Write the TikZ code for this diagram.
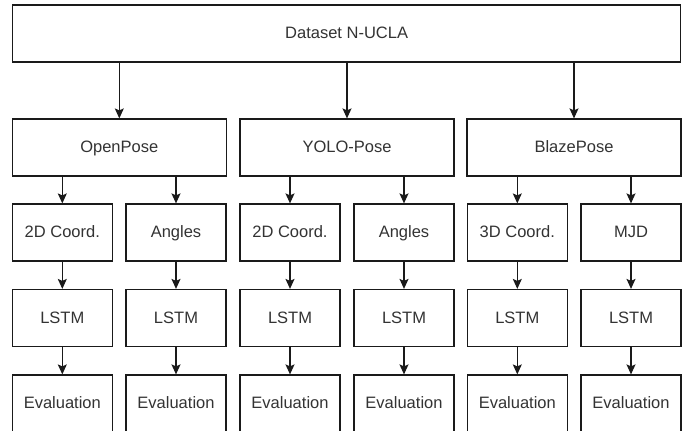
\documentclass[tikz,border=0pt]{standalone}
\usepackage{fontspec}
\setmainfont{Liberation Sans}
\usetikzlibrary{arrows.meta}
\definecolor{edge}{HTML}{1A1A1A}
\definecolor{label}{HTML}{333333}
\tikzset{
  box/.style={draw=edge, line width=1.2pt, fill=white, inner sep=0pt,
    minimum height=57pt, text=label, text height=11pt, text depth=1pt,
    font=\fontsize{16.5}{19}\selectfont},
  small/.style={box, minimum width=100pt},
  wide/.style={box, minimum width=214pt},
  flow/.style={draw=edge, line width=1.2pt, -{Stealth[length=10pt,width=9pt,inset=2pt]}}
}
\begin{document}
\begin{tikzpicture}[x=1pt, y=-1pt]
\useasboundingbox (0,0) rectangle (686,431);

% source dataset
\node[box, minimum width=668pt] (data) at (346.6,33.5) {Dataset N-UCLA};

% pose estimators
\node[wide] (op) at (119.3,147.5) {OpenPose};
\node[wide] (yp) at (347,147.5) {YOLO-Pose};
\node[wide] (bp) at (574,147.5) {BlazePose};

% features
\node[small] (f1) at (62.3,232.5) {2D Coord.};
\node[small] (f2) at (176,232.5) {Angles};
\node[small] (f3) at (290,232.5) {2D Coord.};
\node[small] (f4) at (404,232.5) {Angles};
\node[small] (f5) at (517.3,232.5) {3D Coord.};
\node[small] (f6) at (631,232.5) {MJD};

% models and evaluations
\foreach \i/\x in {1/62.3,2/176,3/290,4/404,5/517.3,6/631}{
  \node[small] (m\i) at (\x,318) {LSTM};
  \node[small] (e\i) at (\x,403.5) {Evaluation};
}

% dataset to estimators
\foreach \p in {op,yp,bp}
  \draw[flow] (data.south -| \p.north) -- (\p.north);

% estimators to features
\draw[flow] (op.south -| f1.north) -- (f1.north);
\draw[flow] (op.south -| f2.north) -- (f2.north);
\draw[flow] (yp.south -| f3.north) -- (f3.north);
\draw[flow] (yp.south -| f4.north) -- (f4.north);
\draw[flow] (bp.south -| f5.north) -- (f5.north);
\draw[flow] (bp.south -| f6.north) -- (f6.north);

% features to models to evaluations
\foreach \i in {1,...,6}{
  \draw[flow] (f\i.south) -- (m\i.north);
  \draw[flow] (m\i.south) -- (e\i.north);
}
\end{tikzpicture}
\end{document}
